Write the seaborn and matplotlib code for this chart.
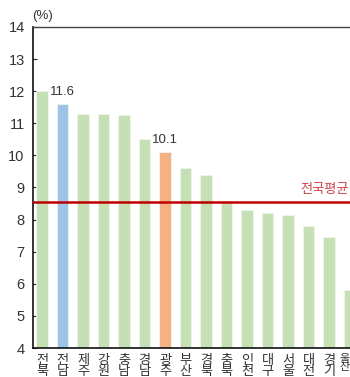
import matplotlib
matplotlib.use("Agg")
import matplotlib.pyplot as plt
import matplotlib.transforms as mtransforms
import seaborn as sns
import pandas as pd

regions = ["전북", "전남", "제주", "강원", "충남", "경남", "광주", "부산",
           "경북", "충북", "인천", "대구", "서울", "대전", "경기", "울산"]
rates = [12.0, 11.6, 11.3, 11.28, 11.26, 10.5, 10.1, 9.6,
         9.4, 8.55, 8.3, 8.2, 8.15, 7.8, 7.45, 5.8]
labelled = {"전남": "11.6", "광주": "10.1"}
national_avg = 8.55
avg_label = "전국평균"
yticks = [4, 5, 6, 7, 8, 9, 10, 11, 12, 13, 14]

GREEN, BLUE, ORANGE = "#c5e0b4", "#9dc3e6", "#f4b183"
colors = [BLUE if r == "전남" else ORANGE if r == "광주" else GREEN for r in regions]

sns.set_theme(style="white")
plt.rcParams["font.family"] = ["Liberation Sans", "Noto Sans CJK KR"]

df = pd.DataFrame({"region": regions, "rate": rates})

fig = plt.figure(figsize=(3.5, 3.77), dpi=100)
ax = fig.add_axes([33 / 350, 29 / 377, 1 - 33 / 350, 1 - 29 / 377 - 27 / 377])

sns.barplot(data=df, x="region", y="rate", hue="region", palette=colors,
            legend=False, width=0.57, ax=ax, edgecolor="#eef5ea", linewidth=0.6,
            saturation=1)

ax.set_ylim(4, 14)
ax.set_xlim(-0.44, 15.02)
ax.set_yticks(yticks)
ax.set_yticklabels([str(t) for t in yticks], fontsize=10.5, color="#333333")
ax.tick_params(axis="y", direction="in", length=3, width=0.8, color="#222222", pad=6,
               left=True)
ax.set_xticks(range(len(regions)))
ax.set_xticklabels(["\n".join(r) for r in regions], fontsize=9.5, color="#333333",
                   linespacing=0.85, family=["Noto Sans CJK KR", "DejaVu Sans"])
ax.tick_params(axis="x", length=0, pad=4)
# the last category sits on the right edge; keep its label inside the canvas
last = ax.get_xticklabels()[-1]
last.set_horizontalalignment("right")
last.set_fontsize(8)
last.set_transform(last.get_transform() +
                   mtransforms.ScaledTranslation(0, 0, fig.dpi_scale_trans))
ax.set_xlabel("")
ax.set_ylabel("")

for side in ["left", "bottom"]:
    ax.spines[side].set_color("#111111")
    ax.spines[side].set_linewidth(1.2)
ax.spines["top"].set_color("#444444")
ax.spines["top"].set_linewidth(1.0)
ax.spines["right"].set_visible(False)

ax.axhline(national_avg, color="#c00000", linewidth=1.8, zorder=5)
blend = mtransforms.blended_transform_factory(ax.transAxes, ax.transData)
ax.text(0.995, national_avg + 0.18, avg_label, color="#d0404a", fontsize=9.5,
        family=["Noto Sans CJK KR", "DejaVu Sans"], ha="right", va="bottom",
        transform=blend)

for i, r in enumerate(regions):
    if r in labelled:
        ax.text(i, rates[i] + 0.2, labelled[r], ha="center", va="bottom",
                fontsize=9.5, color="#333333")

ax.text(0.03, 1.015, "(%)", ha="center", va="bottom", fontsize=9.5, color="#333333",
        transform=ax.transAxes)

fig.savefig("out.png", dpi=100)
